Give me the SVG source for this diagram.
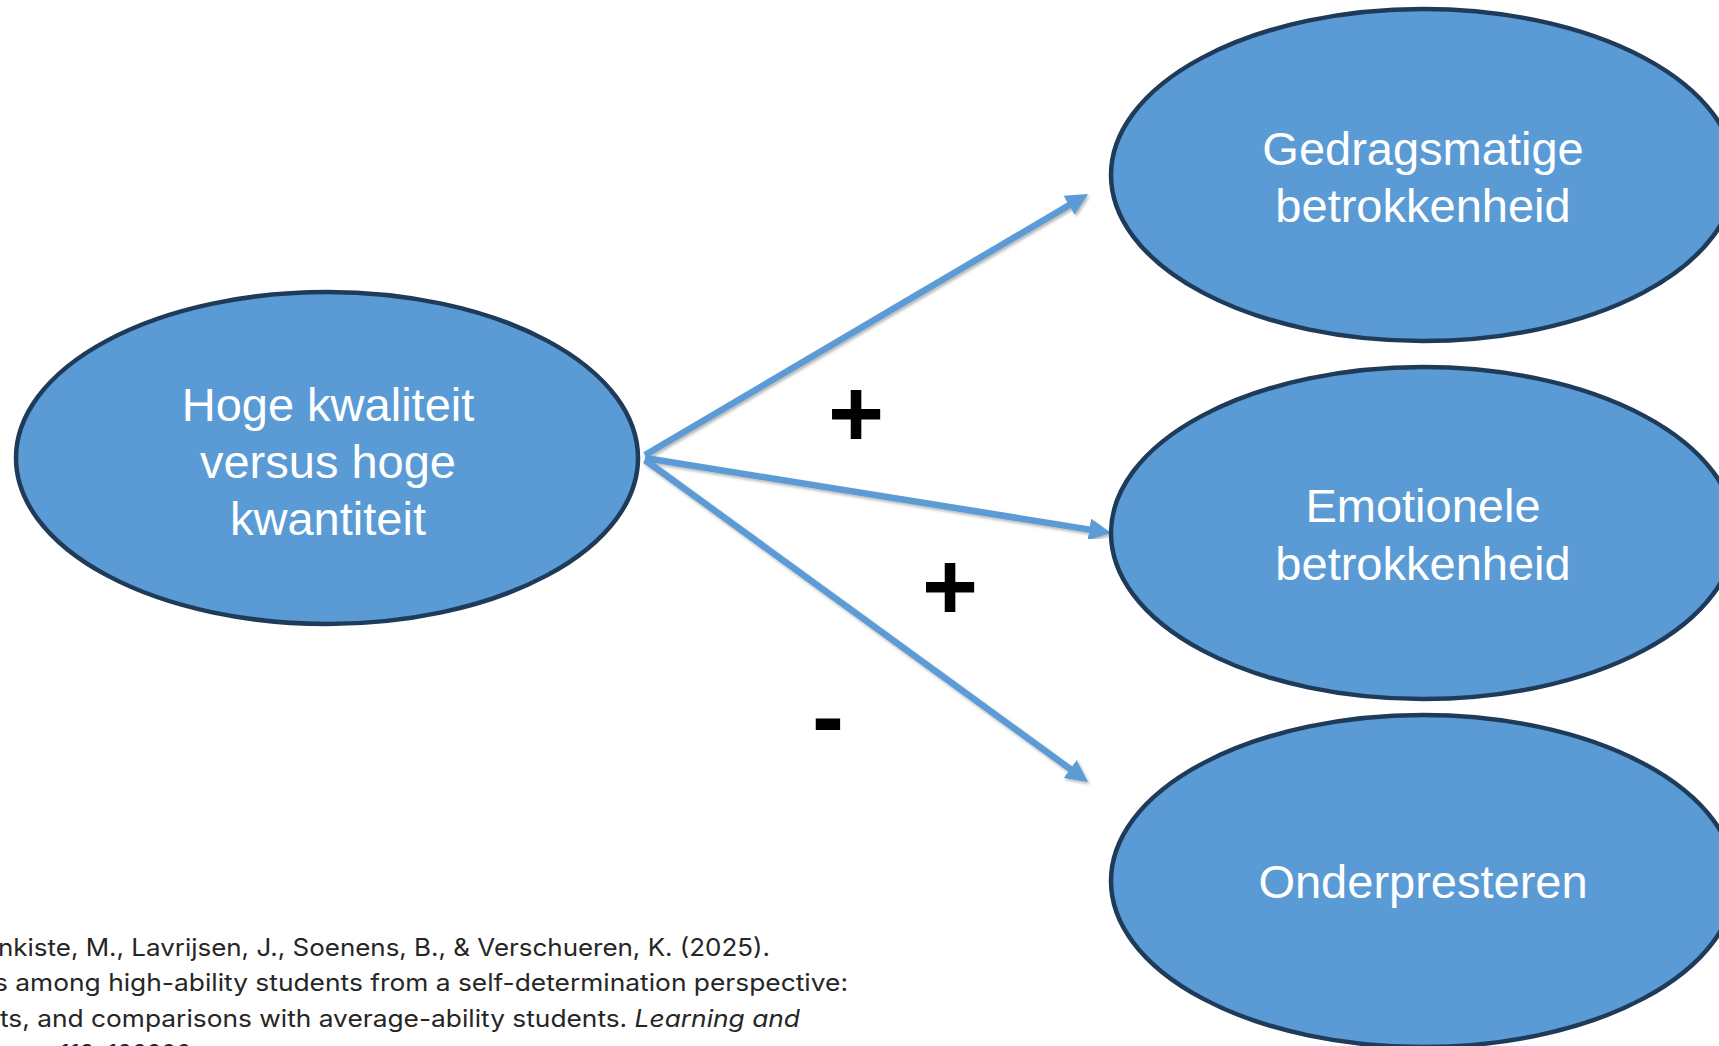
<svg xmlns="http://www.w3.org/2000/svg" width="1719" height="1046" viewBox="0 0 1719 1046">
  <style>
    .node ellipse { fill: #5B9BD5; stroke: #1F3B5A; stroke-width: 4.5; }
    .label { font-family: "Liberation Sans", Arial, sans-serif; font-size: 47px; fill: #FFFFFF; text-anchor: middle; }
    .conn line { stroke: #5B9BD5; stroke-width: 6.5; fill: none; marker-end: url(#head); filter: url(#shadow); }
    .sign { font-family: "Liberation Sans", Arial, sans-serif; font-weight: bold; font-size: 96px; fill: #000000; text-anchor: middle; }
    .cite { font-family: Inter, "Liberation Sans", sans-serif; font-size: 24px; fill: #262626; }
  </style>
  <defs>
    <marker id="head" markerUnits="userSpaceOnUse" markerWidth="24" markerHeight="24" refX="10" refY="11" orient="auto">
      <path d="M0,0 L22,11 L0,22 Z" fill="#5B9BD5"/>
    </marker>
    <filter id="shadow" x="-10%" y="-10%" width="120%" height="120%">
      <feDropShadow dx="1.5" dy="2" stdDeviation="1.5" flood-color="#000000" flood-opacity="0.3"/>
    </filter>
  </defs>
  <rect width="1719" height="1046" fill="#FFFFFF"/>

  <g id="connectors" class="conn">
    <line x1="645" y1="455" x2="1077.7" y2="200.1"/>
    <line x1="645" y1="458" x2="1099.2" y2="531.1"/>
    <line x1="645" y1="460" x2="1078.3" y2="774.9"/>
  </g>

  <g id="node-source" class="node">
    <ellipse cx="327" cy="458" rx="311" ry="166"/>
    <text class="label" x="328" y="421">Hoge kwaliteit</text>
    <text class="label" x="328" y="478">versus hoge</text>
    <text class="label" x="328" y="535">kwantiteit</text>
  </g>

  <g id="node-gedrag" class="node">
    <ellipse cx="1423" cy="175" rx="312" ry="166"/>
    <text class="label" x="1423" y="165">Gedragsmatige</text>
    <text class="label" x="1423" y="222">betrokkenheid</text>
  </g>

  <g id="node-emotie" class="node">
    <ellipse cx="1423" cy="533" rx="312" ry="166"/>
    <text class="label" x="1423" y="522">Emotionele</text>
    <text class="label" x="1423" y="580">betrokkenheid</text>
  </g>

  <g id="node-onder" class="node">
    <ellipse cx="1423" cy="881" rx="312" ry="166"/>
    <text class="label" x="1423" y="898">Onderpresteren</text>
  </g>

  <g id="signs">
    <text class="sign" x="856" y="447">+</text>
    <text class="sign" x="950" y="620">+</text>
    <text class="sign" x="828" y="749">-</text>
  </g>

  <g id="citation">
    <text class="cite" x="-2" y="956" textLength="772" lengthAdjust="spacingAndGlyphs">nkiste, M., Lavrijsen, J., Soenens, B., &amp; Verschueren, K. (2025).</text>
    <text class="cite" x="-6" y="991" textLength="854" lengthAdjust="spacingAndGlyphs">s among high-ability students from a self-determination perspective:</text>
    <text class="cite" x="0" y="1027" textLength="800" lengthAdjust="spacingAndGlyphs">ts, and comparisons with average-ability students. <tspan font-style="italic">Learning and</tspan></text>
    <text class="cite" x="190" y="1062" text-anchor="end" font-style="italic">Individual Differences, 113, 102290</text>
  </g>
</svg>
